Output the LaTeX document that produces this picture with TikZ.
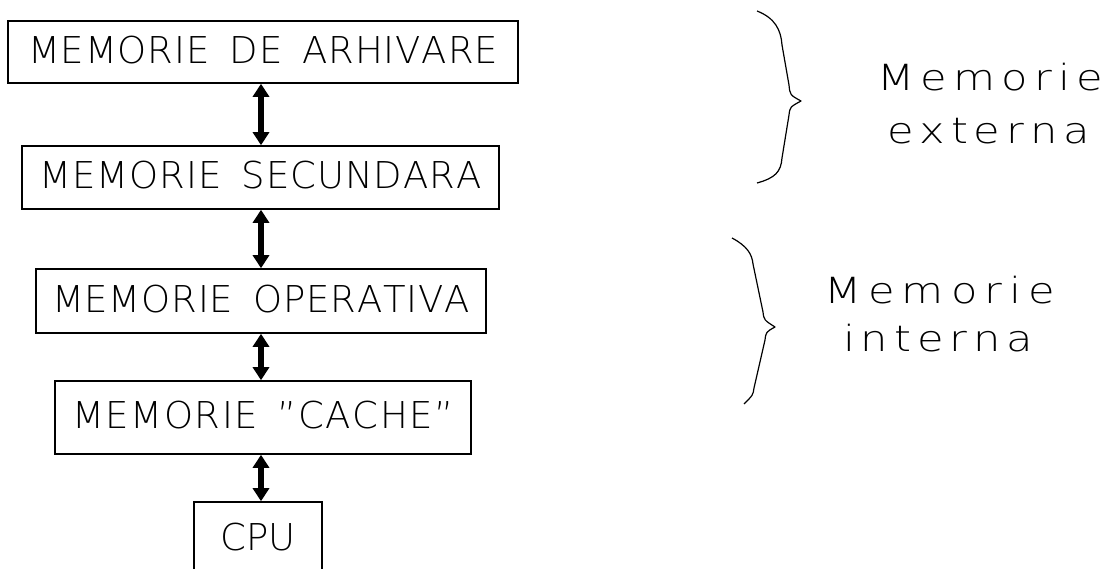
\documentclass[tikz,border=0pt]{standalone}
\usepackage{fontspec}
\setmainfont{DejaVu Sans ExtraLight}
\newfontfamily\widefont{DejaVu Sans ExtraLight}[FakeStretch=1.2]
\usetikzlibrary{arrows.meta}
\newcommand\g{\hfil}
\newcommand\w{\hspace{20pt}}
\tikzset{
  membox/.style={draw, line width=1.6pt, inner sep=0pt, text depth=5pt, font=\fontsize{37}{40}\selectfont},
  biarrow/.style={line width=6pt, {Triangle[length=13pt,width=16pt]}-{Triangle[length=13pt,width=16pt]}},
  brace/.style={line width=1.2pt, line join=round},
  lbl/.style={anchor=base, inner sep=0pt, font=\widefont\fontsize{36}{40}\selectfont}
}
\begin{document}
\begin{tikzpicture}[x=1pt,y=-1pt]
\useasboundingbox (0,0) rectangle (1113,569);
\node[membox, minimum width=510pt, minimum height=62pt] (b1) at (263,52)
  {\makebox[470pt][s]{M\g E\g M\g O\g R\g I\g E\w D\g E\w A\g R\g H\g I\g V\g A\g R\g E}};
\node[membox, minimum width=477pt, minimum height=63pt] (b2) at (260.5,177.5)
  {\makebox[442pt][s]{M\g E\g M\g O\g R\g I\g E\w S\g E\g C\g U\g N\g D\g A\g R\g A}};
\node[membox, minimum width=450pt, minimum height=64pt] (b3) at (261,301)
  {\makebox[418pt][s]{M\g E\g M\g O\g R\g I\g E\w O\g P\g E\g R\g A\g T\g I\g V\g A}};
\node[membox, minimum width=416pt, minimum height=73pt] (b4) at (263,417.5)
  {\makebox[381pt][s]{M\g E\g M\g O\g R\g I\g E\w "\g C\g A\g C\g H\g E\g "}};
\node[membox, minimum width=128pt, minimum height=74pt] (cpu) at (258,539)
  {\makebox[75pt][s]{C\g P\g U}};
\coordinate (ax) at (261,0);
\draw[biarrow] (b1.south -| ax) -- (b2.north -| ax);
\draw[biarrow] (b2.south -| ax) -- (b3.north -| ax);
\draw[biarrow] (b3.south -| ax) -- (b4.north -| ax);
\draw[biarrow] (b4.south -| ax) -- (cpu.north -| ax);
% braces
\draw[brace] (757,11) .. controls (775,18) and (781,30) .. (782,45) -- (789,85)
  .. controls (790,95) .. (801,101) .. controls (790,107) .. (789,115) -- (782,158)
  .. controls (781,172) and (775,178) .. (757,183);
\draw[brace] (732,238) .. controls (747,246) and (752,254) .. (753,264) -- (763,312)
  .. controls (764,320) .. (775,327) .. controls (766,332) .. (765,340) -- (754,388)
  .. controls (753,395) .. (744,404);
\node[lbl] (t1) at (990,91) {\makebox[226pt][s]{M\g e\g m\g o\g r\g i\g e}};
\node[lbl] (t2) at (988.5,144) {\makebox[203pt][s]{e\g x\g t\g e\g r\g n\g a}};
\node[lbl] (t3) at (939.5,303) {\makebox[231pt][s]{M\g e\g m\g o\g r\g i\g e}};
\node[lbl] (t4) at (938,351) {\makebox[190pt][s]{i\g n\g t\g e\g r\g n\g a}};
\end{tikzpicture}
\end{document}
